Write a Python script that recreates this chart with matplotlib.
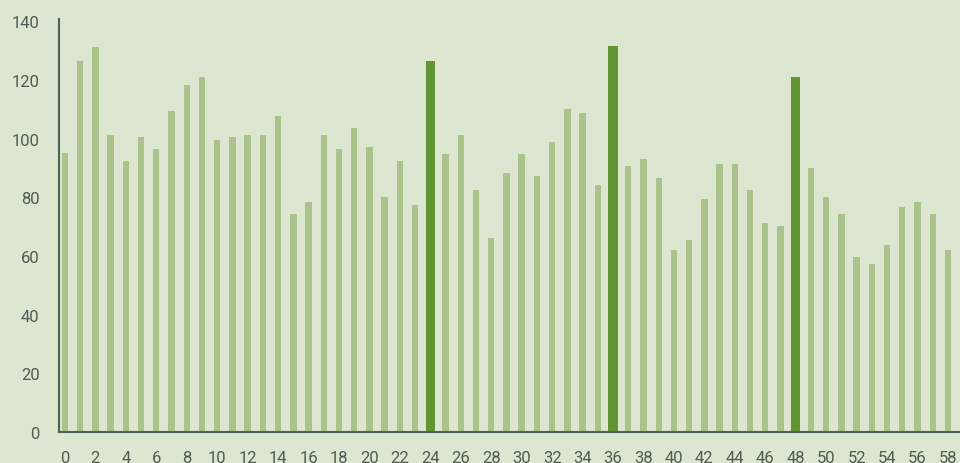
import numpy as np
import matplotlib
matplotlib.use('Agg')
import matplotlib.pyplot as plt

# values, one per bar (x = 0..58)
positions = list(range(59))
values = [95, 126.5, 131.4, 101.3, 92.3, 100.5, 96.4, 109.4, 118.3, 120.9,
          99.6, 100.5, 101.3, 101.3, 107.8, 74.4, 78.4, 101.3, 96.4, 103.7,
          97.2, 80.0, 92.3, 77.5, 126.5, 94.8, 101.3, 82.5, 66.2, 88.2,
          94.8, 87.4, 98.8, 110.2, 108.7, 84.1, 131.6, 90.7, 93.1, 86.6,
          62.2, 65.5, 79.4, 91.5, 91.5, 82.5, 71.2, 70.3, 121.1, 89.9,
          80.1, 74.4, 59.7, 57.3, 63.8, 76.8, 78.4, 74.4, 62.2]
highlighted = [24, 36, 48]
xtick_labels = [str(i) for i in range(0, 59, 2)]
ytick_values = [0, 20, 40, 60, 80, 100, 120, 140]

bg = '#dce6d1'
light = '#abc38a'
dark = '#629531'
axis_col = '#4f6257'
text_col = '#4d5d53'

plt.rcParams['font.family'] = ['Roboto', 'DejaVu Sans']

fig = plt.figure(figsize=(9.6, 4.64), dpi=100)
fig.patch.set_facecolor(bg)
ax = fig.add_axes([59 / 960, 31 / 464, 901 / 960, 413 / 464])
ax.set_facecolor(bg)

x = np.array(positions)
v = np.array(values)
is_hi = np.isin(x, highlighted)
ax.bar(x[~is_hi], v[~is_hi], width=0.42, color=light, zorder=2)
ax.bar(x[is_hi], v[is_hi], width=0.62, color=dark, zorder=2)

ax.set_xlim(-0.39, 58.79)
ax.set_ylim(0, 140.8)
ax.set_xticks(range(0, 59, 2))
ax.set_xticklabels(xtick_labels)
ax.set_yticks(ytick_values)

ax.tick_params(axis='both', length=0, labelsize=12, colors=text_col)
ax.tick_params(axis='y', pad=14)
ax.tick_params(axis='x', pad=13)

for s in ['top', 'right']:
    ax.spines[s].set_visible(False)
for s in ['left', 'bottom']:
    ax.spines[s].set_color(axis_col)
    ax.spines[s].set_linewidth(1.5)
    ax.spines[s].set_zorder(3)

fig.savefig('out.png', dpi=100, facecolor=bg)
